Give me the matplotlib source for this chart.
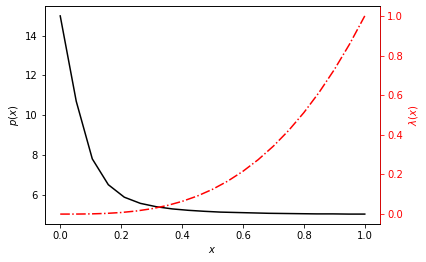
import numpy as np
import matplotlib
matplotlib.use('Agg')
import matplotlib.pyplot as plt

# values
x_p = [0.0, 0.0526, 0.1053, 0.1579, 0.2105, 0.2632, 0.3158, 0.3684, 0.4211, 0.4737,
       0.5263, 0.5789, 0.6316, 0.6842, 0.7368, 0.7895, 0.8421, 0.8947, 0.9474, 1.0]
p_vals = [15.0, 10.7, 7.8, 6.5, 5.87, 5.56, 5.39, 5.28, 5.21, 5.16,
          5.12, 5.10, 5.08, 5.06, 5.05, 5.04, 5.03, 5.03, 5.02, 5.02]

x_lam = [0.0, 0.05, 0.1, 0.15, 0.2, 0.25, 0.3, 0.35, 0.4, 0.45, 0.5,
         0.55, 0.6, 0.65, 0.7, 0.75, 0.8, 0.85, 0.9, 0.95, 1.0]
lam_vals = [0.0, 0.0001, 0.001, 0.0034, 0.008, 0.0156, 0.027, 0.0429, 0.064, 0.0911, 0.125,
            0.1664, 0.216, 0.2746, 0.343, 0.4219, 0.512, 0.6141, 0.729, 0.8574, 1.0]

fig = plt.figure(figsize=(426 / 72, 262 / 72), dpi=72)
ax = fig.add_axes([45 / 426, 1 - 224 / 262, 335 / 426, 218 / 262])

ax.plot(x_p, p_vals, color='black')
ax.set_xlabel('$x$')
ax.set_ylabel('$p(x)$')
ax.set_xticks([0.0, 0.2, 0.4, 0.6, 0.8, 1.0])
ax.set_yticks([6, 8, 10, 12, 14])

ax2 = ax.twinx()
ax2.plot(x_lam, lam_vals, color='red', linestyle='-.')
ax2.set_ylabel('$\\lambda(x)$', color='red')
ax2.tick_params(axis='y', colors='red')
ax2.spines['right'].set_color('red')
ax2.set_yticks([0.0, 0.2, 0.4, 0.6, 0.8, 1.0])

fig.savefig('out.png', dpi=72)
